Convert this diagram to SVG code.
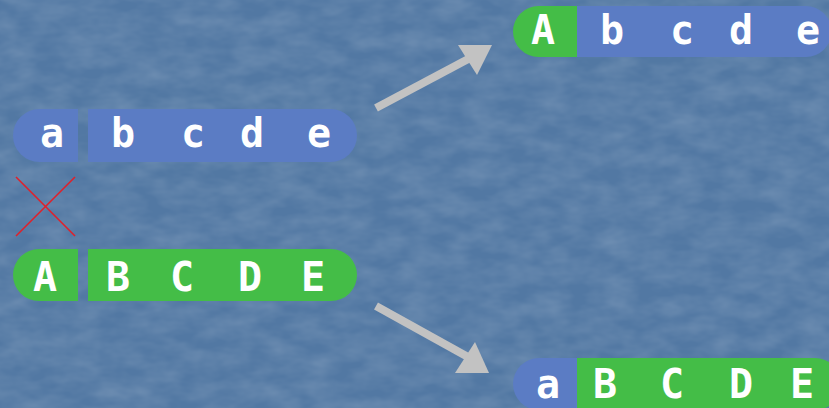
<svg xmlns="http://www.w3.org/2000/svg" width="829" height="408" viewBox="0 0 829 408">
  <defs>
    <filter id="tex" x="0" y="0" width="100%" height="100%">
      <feTurbulence type="fractalNoise" baseFrequency="0.03 0.06" numOctaves="3" seed="7" result="n"/>
      <feColorMatrix type="matrix" values="0 0 0 0 1  0 0 0 0 1  0 0 0 0 1  0 0 0 0.22 -0.06" />
    </filter>
    <style>
      .blue { fill: #5b7cc4; }
      .green { fill: #44bd47; }
      .t { font-family: "DejaVu Sans Mono", "Liberation Mono", monospace; font-weight: bold; font-size: 40px; fill: #ffffff; text-anchor: middle; }
      .arrow-line { stroke: #c2c2c2; stroke-width: 8; fill: none; }
      .arrow-head { fill: #c2c2c2; }
      .x { stroke: #e0202a; stroke-width: 1.6; }
    </style>
  </defs>

  <rect x="0" y="0" width="829" height="408" fill="#5278a3"/>
  <rect x="0" y="0" width="829" height="408" filter="url(#tex)"/>

  <g id="row-lower">
    <path class="blue" d="M78,109 H39.5 A26.5,26.5 0 0 0 39.5,162 H78 Z"/>
    <path class="blue" d="M88,109 H330.5 A26.5,26.5 0 0 1 330.5,162 H88 Z"/>
    <text class="t" x="52" y="147">a</text>
    <text class="t" x="123" y="147">b</text>
    <text class="t" x="193" y="147">c</text>
    <text class="t" x="252" y="147">d</text>
    <text class="t" x="319" y="147">e</text>
  </g>

  <g id="cross">
    <line class="x" x1="16" y1="177" x2="75" y2="236"/>
    <line class="x" x1="75" y1="177" x2="16" y2="236"/>
  </g>

  <g id="row-upper">
    <path class="green" d="M78,249 H39 A26,26 0 0 0 39,301 H78 Z"/>
    <path class="green" d="M88,249 H331 A26,26 0 0 1 331,301 H88 Z"/>
    <text class="t" x="45" y="291">A</text>
    <text class="t" x="118" y="291">B</text>
    <text class="t" x="182" y="291">C</text>
    <text class="t" x="250" y="291">D</text>
    <text class="t" x="313" y="291">E</text>
  </g>

  <g id="result-top">
    <path class="green" d="M577,6 H538.5 A25.5,25.5 0 0 0 538.5,57 H577 Z"/>
    <path class="blue" d="M577,6 H806 A25.5,25.5 0 0 1 806,57 H577 Z"/>
    <text class="t" x="543" y="44">A</text>
    <text class="t" x="612" y="44">b</text>
    <text class="t" x="682" y="44">c</text>
    <text class="t" x="741" y="44">d</text>
    <text class="t" x="808" y="44">e</text>
  </g>

  <g id="result-bottom">
    <path class="blue" d="M577,358 H539 A26,26 0 0 0 539,410 H577 Z"/>
    <path class="green" d="M577,358 H815 A26,26 0 0 1 815,410 H577 Z"/>
    <text class="t" x="548" y="398">a</text>
    <text class="t" x="605" y="398">B</text>
    <text class="t" x="672" y="398">C</text>
    <text class="t" x="741" y="398">D</text>
    <text class="t" x="802" y="398">E</text>
  </g>

  <g id="connectors">
    <line class="arrow-line" x1="376" y1="108" x2="472" y2="57"/>
    <polygon class="arrow-head" points="458,45 492,45 477,75"/>
    <line class="arrow-line" x1="376" y1="306" x2="468" y2="357"/>
    <polygon class="arrow-head" points="475,342 489,373 455,373"/>
  </g>
</svg>
